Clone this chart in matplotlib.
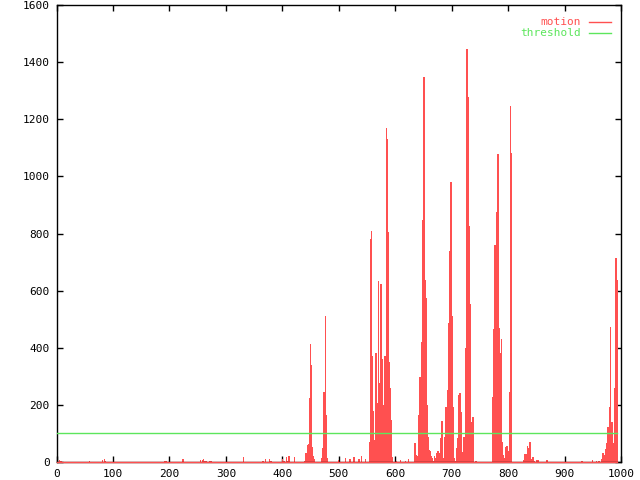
import numpy as np
import matplotlib
matplotlib.use('Agg')
import matplotlib.pyplot as plt

# ---- data (frame index -> motion value) ----
n_frames = 994
threshold = 100

motion_frames = [1, 5, 8, 59, 81, 85, 86, 191, 194, 224, 255, 258, 260, 262, 265,
                 272, 275, 331, 366, 370, 377, 380, 400, 403, 407, 409, 412, 421,
                 440, 442, 444, 446, 447, 448, 450, 451, 453, 455, 457,
                 469, 471, 473, 474, 476, 478, 480,
                 500, 512, 520, 527, 536, 540, 547,
                 554, 556, 558, 559, 561, 563, 565, 566, 568, 570, 572, 573, 575,
                 577, 579, 581, 582, 584, 586, 588, 589, 591, 593, 595, 602,
                 610, 618, 624,
                 634, 635, 637, 639, 641, 642, 644, 646, 648, 650, 651, 653, 655,
                 657, 658, 660, 662, 664, 665, 667, 669, 671, 673, 674, 676, 678,
                 680, 681, 683, 685, 687, 688, 690, 692, 694, 696, 697, 699, 701,
                 703, 704, 706, 708, 710, 712, 713, 715, 717, 719, 720, 722, 724,
                 726, 727, 729, 731, 733, 735, 736, 738, 743,
                 773, 775, 777, 779, 781, 782, 784, 786, 788, 789, 791, 793, 795,
                 796, 798, 800, 802, 804, 805,
                 828, 830, 832, 834, 835, 837, 839, 841, 844, 846, 850, 853, 869,
                 931, 950, 956, 961, 966, 968, 970, 972, 973, 975, 977, 979, 981,
                 982, 984, 986, 988, 989, 991, 993]
motion_values = [4, 7, 4, 3, 7, 10, 4, 3, 3, 10, 7, 7, 9, 5, 4,
                 3, 3, 17, 3, 12, 10, 5, 10, 5, 19, 5, 22, 17,
                 5, 30, 60, 63, 60, 224, 412, 340, 54, 20, 9,
                 15, 49, 138, 246, 512, 164, 15,
                 8, 15, 10, 18, 10, 20, 10,
                 71, 781, 810, 372, 178, 77, 209, 380, 208, 633, 276, 208, 623,
                 362, 200, 170, 370, 1168, 1131, 806, 351, 258, 147, 19, 5,
                 8, 5, 12,
                 30, 65, 25, 20, 30, 164, 299, 421, 847, 1172, 1349, 637, 575,
                 200, 89, 42, 37, 20, 15, 5, 20, 15, 25, 30, 37, 30,
                 30, 83, 143, 13, 89, 30, 194, 252, 486, 740, 511, 981, 511,
                 194, 13, 5, 48, 83, 83, 235, 240, 176, 36, 13, 89, 398,
                 1353, 1445, 1277, 826, 553, 20, 141, 157, 5,
                 229, 465, 760, 876, 812, 1078, 468, 380, 431, 71, 25, 15, 51,
                 30, 55, 40, 246, 1246, 1083,
                 7, 28, 28, 17, 57, 49, 70, 10, 17, 5, 7, 7, 7,
                 5, 7, 5, 5, 12, 30, 25, 44, 37, 65, 124, 194, 474,
                 427, 141, 65, 189, 258, 713, 637]

x_ticks = [0, 100, 200, 300, 400, 500, 600, 700, 800, 900, 1000]
y_ticks = [0, 200, 400, 600, 800, 1000, 1200, 1400, 1600]

red = '#ff5050'
green = '#5ce65c'

plt.rcParams['font.family'] = 'DejaVu Sans Mono'
plt.rcParams['font.size'] = 8

fig = plt.figure(figsize=(6.4, 4.8), dpi=100)
ax = fig.add_axes([56.5 / 640, 1 - 462 / 480, (621 - 56.5) / 640, (462 - 5) / 480])

# motion impulses
ax.bar(motion_frames, motion_values, width=2.2, color=red, linewidth=0,
       antialiased=False, zorder=2)
ax.plot([0, n_frames - 1], [0, 0], color=red, linewidth=1.0, zorder=5, clip_on=False)
# threshold
ax.plot([0, n_frames - 1], [threshold, threshold], color=green, linewidth=1.0, zorder=4)

ax.set_xlim(0, 1000)
ax.set_ylim(0, 1600)
ax.set_xticks(x_ticks)
ax.set_yticks(y_ticks)
ax.tick_params(direction='in', length=4, width=1, top=True, right=True,
               pad=5, colors='black')
for s in ax.spines.values():
    s.set_linewidth(1)

# gnuplot-style key (text right aligned, sample line after)
ax.text(0.929, 0.962, 'motion', color=red, ha='right', va='center',
        transform=ax.transAxes)
ax.text(0.929, 0.938, 'threshold', color=green, ha='right', va='center',
        transform=ax.transAxes)
ax.plot([0.943, 0.982], [0.962, 0.962], color=red, linewidth=1, transform=ax.transAxes)
ax.plot([0.943, 0.982], [0.938, 0.938], color=green, linewidth=1, transform=ax.transAxes)

plt.savefig('out.png', dpi=100)
